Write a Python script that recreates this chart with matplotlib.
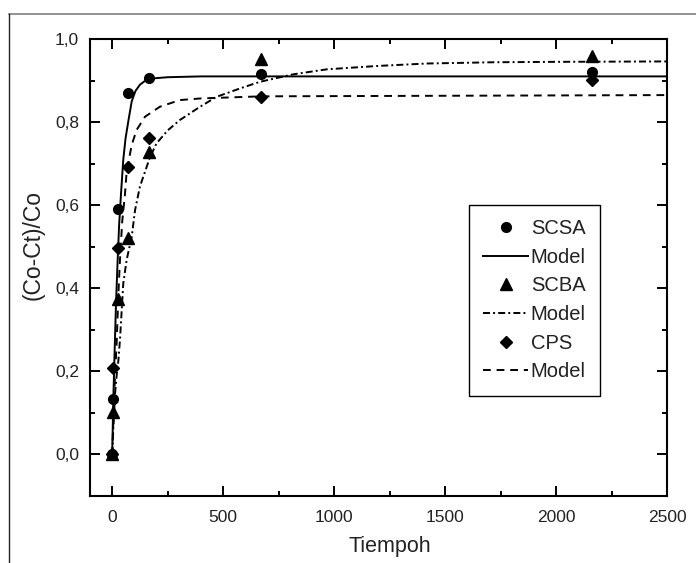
import matplotlib
matplotlib.use("Agg")
import matplotlib.pyplot as plt
from matplotlib.ticker import MultipleLocator, FuncFormatter
from matplotlib.lines import Line2D

plt.rcParams['font.family'] = ['Liberation Sans', 'DejaVu Sans']

# ---- data ----
time_h = [0, 5, 24, 72, 168, 672, 2160]
scsa = [0.0, 0.133, 0.59, 0.87, 0.905, 0.915, 0.92]
scba = [0.0, 0.103, 0.375, 0.52, 0.728, 0.953, 0.96]
cps = [0.0, 0.208, 0.497, 0.693, 0.762, 0.861, 0.902]

# model curves
scsa_model_t = [0, 5, 10, 17, 24, 31, 40, 50, 60, 72, 88, 105, 125, 150, 180, 250, 400, 2500]
scsa_model_y = [0, 0.13, 0.23, 0.36, 0.46, 0.55, 0.63, 0.71, 0.76, 0.80, 0.85, 0.875, 0.89, 0.90, 0.905, 0.908, 0.91, 0.91]

scba_model_t = [0, 5, 13, 20, 28, 35, 43, 50, 65, 88, 103, 125, 170, 200, 250, 305, 396, 471, 576, 666, 816, 967, 1192, 1417, 1717, 1988, 2500]
scba_model_y = [0, 0.06, 0.147, 0.19, 0.227, 0.276, 0.348, 0.412, 0.468, 0.524, 0.588, 0.645, 0.715, 0.749, 0.78, 0.805, 0.837, 0.861, 0.881, 0.897, 0.915, 0.927, 0.935, 0.941, 0.944, 0.945, 0.946]

cps_model_t = [0, 5, 12, 20, 28, 35, 45, 58, 65, 88, 110, 148, 215, 305, 400, 672, 2500]
cps_model_y = [0, 0.08, 0.18, 0.268, 0.388, 0.468, 0.56, 0.629, 0.68, 0.745, 0.781, 0.813, 0.837, 0.853, 0.857, 0.862, 0.865]

xticks = [0, 500, 1000, 1500, 2000, 2500]
yticks = [0.0, 0.2, 0.4, 0.6, 0.8, 1.0]

fig = plt.figure(figsize=(6.96, 5.63), dpi=100)
W, H = 696, 563
ax = fig.add_axes([90 / W, 1 - 496 / H, (667 - 90) / W, (496 - 39) / H])

ms = 7
ax.plot(time_h, scsa, 'o', color='black', markersize=ms, label='SCSA', zorder=3)
ax.plot(scsa_model_t, scsa_model_y, '-', color='black', lw=1.4, label='Model')
ax.plot(time_h, scba, '^', color='black', markersize=ms + 1, label='SCBA', zorder=3)
ax.plot(scba_model_t, scba_model_y, color='black', lw=1.4, linestyle=(0, (3.6, 1.6, 1, 1.6)), label='Model')
ax.plot(time_h, cps, 'D', color='black', markersize=ms - 0.5, label='CPS', zorder=3)
ax.plot(cps_model_t, cps_model_y, color='black', lw=1.4, linestyle=(0, (4.0, 3.0)), label='Model')

ax.set_xlim(-100, 2500)
ax.set_ylim(-0.1, 1.0)
ax.set_xticks(xticks)
ax.set_yticks(yticks)
ax.xaxis.set_minor_locator(MultipleLocator(250))
ax.yaxis.set_minor_locator(MultipleLocator(0.1))
ax.yaxis.set_major_formatter(FuncFormatter(lambda v, p: f"{v:.1f}".replace('.', ',')))
ax.xaxis.set_major_formatter(FuncFormatter(lambda v, p: f"{int(round(v))}"))

ax.tick_params(which='both', direction='in', top=True, right=True, width=1.4,
               labelsize=12.5, labelcolor='#222222', color='black')
ax.tick_params(which='major', length=7.2)
ax.tick_params(which='minor', length=3.6)
ax.tick_params(axis='x', which='major', pad=10)
ax.tick_params(axis='y', which='major', pad=8)
for s in ax.spines.values():
    s.set_linewidth(1.5)

ax.set_xlabel('Tiempoh', fontsize=15.5, color='#222222', labelpad=8)
ax.xaxis.label.set_x((390 - 90) / 577)
ax.set_ylabel('(Co-Ct)/Co', fontsize=16.5, color='#222222', labelpad=7)
ax.yaxis.label.set_y((496 - 245) / 457)

leg = ax.legend(loc='upper left', bbox_to_anchor=(469 / W, 1 - 205 / H),
                bbox_transform=fig.transFigure, borderaxespad=0,
                fontsize=14.5, frameon=True, fancybox=False, shadow=False,
                handlelength=2.25, handletextpad=0.12, labelspacing=0.48,
                borderpad=0.7)
leg.get_frame().set_edgecolor('black')
leg.get_frame().set_linewidth(1.0)
leg.get_frame().set_alpha(None)
for t in leg.get_texts():
    t.set_color('#222222')

# outer frame of the figure
fig.add_artist(Line2D([9 / W, 1.0], [1 - 14 / H, 1 - 14 / H], transform=fig.transFigure,
                      color='#808080', lw=1.2))
fig.add_artist(Line2D([9 / W, 9 / W], [0.0, 1 - 14 / H], transform=fig.transFigure,
                      color='#222222', lw=1.0))

fig.savefig('out.png', dpi=100)
